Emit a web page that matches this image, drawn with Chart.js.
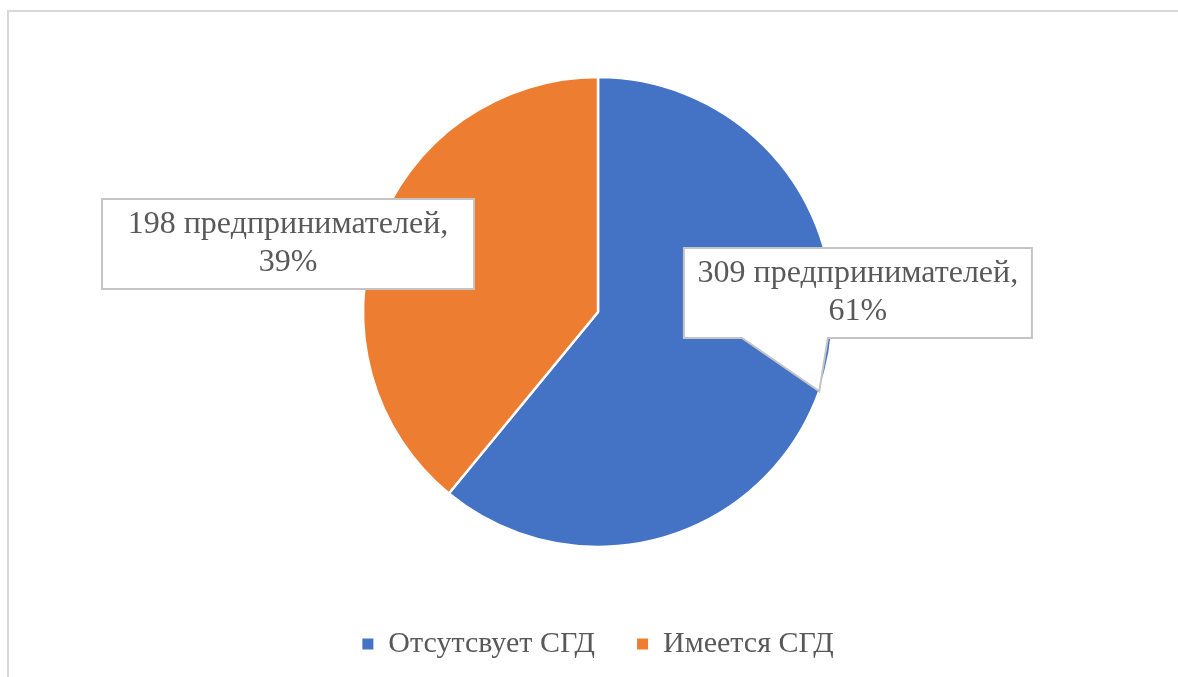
<!DOCTYPE html>
<html>
<head>
<meta charset="utf-8">
<script src="https://cdn.jsdelivr.net/npm/chart.js@4"></script>
<style>
  html, body { margin: 0; padding: 0; background: #fff; overflow: hidden; }
  #frame { position: absolute; left: 7px; top: 10px; width: 1300px; height: 800px; border: 2px solid #d9d9d9; }
  #wrap { position: absolute; left: 0; top: 0; width: 1178px; height: 677px; }
</style>
</head>
<body>
<div id="frame"></div>
<div id="wrap"><canvas id="pieChart" width="1178" height="677"></canvas></div>
<script>
const categories = ['Отсутсвует СГД', 'Имеется СГД'];
const counts = [309, 198];
const colors = ['#4472c4', '#ed7d31'];
const unitLabel = 'предпринимателей';

const total = counts.reduce((a, b) => a + b, 0);
const serif = '"Liberation Serif", "Times New Roman", serif';

// callout boxes, offsets in units of the pie radius
const callouts = [
  { dx: 1.106, dy: -0.081, w: 348, h: 90, tail: true },
  { dx: -1.319, dy: -0.289, w: 372, h: 90, tail: false }
];

const calloutPlugin = {
  id: 'callouts',
  afterDatasetsDraw(chart) {
    const ctx = chart.ctx;
    const meta = chart.getDatasetMeta(0);
    meta.data.forEach((arc, i) => {
      const c = callouts[i];
      const r = arc.outerRadius;
      const bx = arc.x + c.dx * r;
      const by = arc.y + c.dy * r;
      const left = bx - c.w / 2, top = by - c.h / 2;
      const mid = (arc.startAngle + arc.endAngle) / 2;
      const tipX = arc.x + Math.cos(mid) * r;
      const tipY = arc.y + Math.sin(mid) * r;

      ctx.save();
      ctx.beginPath();
      ctx.moveTo(left, top);
      ctx.lineTo(left + c.w, top);
      ctx.lineTo(left + c.w, top + c.h);
      if (c.tail) {
        ctx.lineTo(left + 144, top + c.h);
        ctx.lineTo(tipX, tipY);
        ctx.lineTo(left + 58, top + c.h);
      }
      ctx.lineTo(left, top + c.h);
      ctx.closePath();
      ctx.fillStyle = '#ffffff';
      ctx.fill();
      ctx.lineWidth = 2;
      ctx.strokeStyle = '#c4c4c4';
      ctx.stroke();

      const pct = Math.round(counts[i] / total * 100) + '%';
      ctx.fillStyle = '#595959';
      ctx.font = '32px ' + serif;
      ctx.textAlign = 'center';
      ctx.textBaseline = 'middle';
      ctx.fillText(counts[i] + ' ' + unitLabel + ',', bx, by - 19);
      ctx.fillText(pct, bx, by + 19);
      ctx.restore();
    });
  }
};

const ctx = document.getElementById('pieChart').getContext('2d');
new Chart(ctx, {
  type: 'pie',
  data: {
    labels: categories,
    datasets: [{
      data: counts,
      backgroundColor: colors,
      borderColor: '#ffffff',
      borderWidth: 2.5,
      radius: 235
    }]
  },
  options: {
    responsive: false,
    animation: false,
    layout: { padding: { left: 18, right: 0, top: 37, bottom: 8 } },
    plugins: {
      tooltip: { enabled: false },
      legend: {
        position: 'bottom',
        labels: {
          boxWidth: 11,
          boxHeight: 11,
          padding: 42,
          color: '#595959',
          font: { family: serif, size: 30 },
          generateLabels(chart) {
            const base = Chart.overrides.pie.plugins.legend.labels.generateLabels(chart);
            return base.map(l => Object.assign(l, { lineWidth: 0, strokeStyle: l.fillStyle }));
          }
        }
      }
    }
  },
  plugins: [calloutPlugin]
});
</script>
</body>
</html>
